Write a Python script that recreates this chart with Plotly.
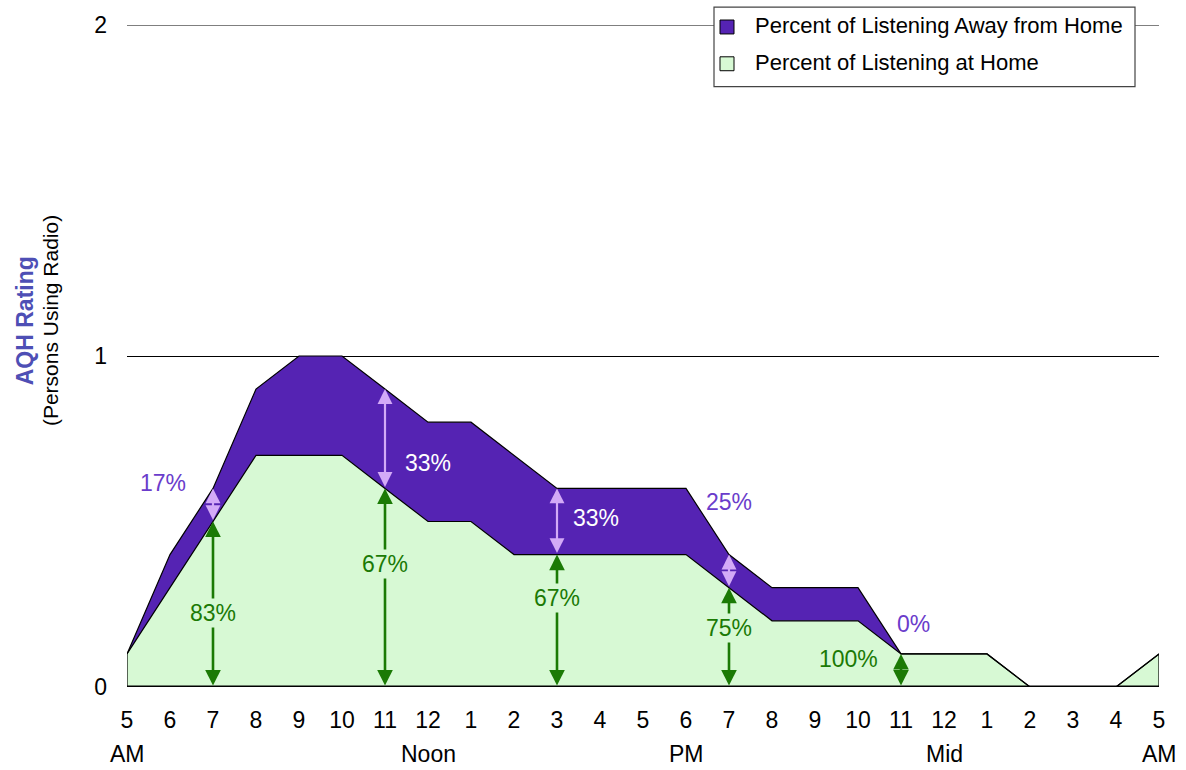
import plotly.graph_objects as go

# Hour slots from 5 AM through 5 AM the next day
hour_labels = ["5", "6", "7", "8", "9", "10", "11", "12", "1", "2", "3", "4",
               "5", "6", "7", "8", "9", "10", "11", "12", "1", "2", "3", "4", "5"]
period_labels = {0: "AM", 7: "Noon", 13: "PM", 19: "Mid", 24: "AM"}

# AQH rating listened at home, and total (home + away from home)
home_rating = [0.1, 0.3, 0.5, 0.7, 0.7, 0.7, 0.6, 0.5, 0.5, 0.4, 0.4, 0.4,
               0.4, 0.4, 0.3, 0.2, 0.2, 0.2, 0.1, 0.1, 0.1, 0.0, 0.0, 0.0, 0.1]
total_rating = [0.1, 0.4, 0.6, 0.9, 1.0, 1.0, 0.9, 0.8, 0.8, 0.7, 0.6, 0.6,
                0.6, 0.6, 0.4, 0.3, 0.3, 0.3, 0.1, 0.1, 0.1, 0.0, 0.0, 0.0, 0.1]

# Hours where the split is annotated
marked_hours = [2, 6, 10, 14, 18]

PURPLE = "#5523B3"
GREEN_FILL = "#D7F9D4"
GREEN_DARK = "#1B7A05"
LIGHT_PURPLE = "#D3AAF7"
LABEL_PURPLE = "#6A3CCB"
FONT = "Liberation Sans, Arial, sans-serif"

n = len(hour_labels)
xs = list(range(n))

fig = go.Figure()

# At-home area, closed down to the baseline at both ends
fig.add_trace(go.Scatter(
    x=[xs[0]] + xs + [xs[-1]],
    y=[0] + home_rating + [0],
    mode="lines", fill="tozeroy", fillcolor=GREEN_FILL,
    line=dict(color="black", width=1.2), showlegend=False, hoverinfo="skip"))

# Away-from-home band stacked on top
fig.add_trace(go.Scatter(
    x=xs, y=total_rating, mode="lines", fill="tonexty", fillcolor=PURPLE,
    line=dict(color="black", width=1.2), showlegend=False, hoverinfo="skip"))

annotations = []


def pct(part, whole):
    return round(100 * part / whole) if whole else 0


# label placement for each marked hour (x in hours, y in rating units)
away_label_pos = {2: (0.84, 0.617), 6: (7.0, 0.678), 10: (10.9, 0.51),
                  14: (14.0, 0.56), 18: (18.3, 0.19)}
away_label_color = {2: LABEL_PURPLE, 6: "white", 10: "white",
                    14: LABEL_PURPLE, 18: LABEL_PURPLE}
home_label_pos = {2: (2, 0.225), 6: (6, 0.372), 10: (10, 0.27),
                  14: (14, 0.177), 18: (16.77, 0.084)}

for h in marked_hours:
    home = home_rating[h]
    total = total_rating[h]
    away = total - home
    # green double arrow: baseline to at-home level
    annotations.append(dict(
        x=h, y=home, ax=h, ay=0, xref="x", yref="y", axref="x", ayref="y",
        text="", showarrow=True, arrowhead=2, startarrowhead=2,
        arrowside="end+start", arrowsize=1.2, startarrowsize=1.2,
        arrowwidth=2.6, arrowcolor=GREEN_DARK, standoff=0, startstandoff=0))
    # light purple double arrow: at-home level to total
    if away > 1e-9:
        annotations.append(dict(
            x=h, y=total, ax=h, ay=home, xref="x", yref="y", axref="x", ayref="y",
            text="", showarrow=True, arrowhead=2, startarrowhead=2,
            arrowside="end+start", arrowsize=1.35, startarrowsize=1.35,
            arrowwidth=2.2, arrowcolor=LIGHT_PURPLE, standoff=0, startstandoff=0))

for h in marked_hours:
    home = home_rating[h]
    total = total_rating[h]
    away = total - home
    ax_, ay_ = away_label_pos[h]
    annotations.append(dict(
        x=ax_, y=ay_, xref="x", yref="y", showarrow=False,
        text=f"{pct(away, total)}%",
        font=dict(family=FONT, size=23, color=away_label_color[h])))
    hx, hy = home_label_pos[h]
    annotations.append(dict(
        x=hx, y=hy, xref="x", yref="y", showarrow=False,
        text=f"{pct(home, total)}%", bgcolor=GREEN_FILL, borderpad=1,
        font=dict(family=FONT, size=23, color=GREEN_DARK)))

# Second row of hour labels
for i, lab in period_labels.items():
    annotations.append(dict(
        x=i, y=-0.1005, xref="x", yref="paper", showarrow=False, text=lab,
        yanchor="middle", font=dict(family=FONT, size=23, color="black")))

# Y axis title (two lines)
annotations.append(dict(
    x=-0.0985, y=0.553, xref="paper", yref="paper", showarrow=False,
    textangle=-90, xanchor="center", yanchor="middle",
    text="<b>AQH Rating</b>",
    font=dict(family=FONT, size=23, color="#4E4FB5")))
annotations.append(dict(
    x=-0.0735, y=0.553, xref="paper", yref="paper", showarrow=False,
    textangle=-90, xanchor="center", yanchor="middle",
    text="(Persons Using Radio)",
    font=dict(family=FONT, size=21, color="black")))

# Pixel helpers for the legend box
L, T = 127, 21
W, H = 1032, 666


def px(xp):
    return (xp - L) / W


def py(yp):
    return (T + H - yp) / H


shapes = [
    dict(type="line", xref="paper", yref="y", x0=0, x1=1, y0=2, y1=2,
         layer="below", line=dict(color="black", width=1)),
    dict(type="line", xref="paper", yref="y", x0=0, x1=1, y0=0, y1=0,
         line=dict(color="black", width=3)),
    dict(type="rect", xref="paper", yref="paper", x0=px(714), x1=px(1135),
         y0=py(83), y1=py(3), fillcolor="white", line=dict(color="#444444", width=1.2)),
    dict(type="rect", xref="paper", yref="paper", x0=px(720), x1=px(734),
         y0=py(30), y1=py(16), fillcolor=PURPLE, line=dict(color="black", width=1)),
    dict(type="rect", xref="paper", yref="paper", x0=px(720), x1=px(734),
         y0=py(67), y1=py(53), fillcolor=GREEN_FILL, line=dict(color="black", width=1)),
]
for text, yc in [("Percent of Listening Away from Home", 22),
                 ("Percent of Listening at Home", 59)]:
    annotations.append(dict(
        x=px(753), y=py(yc), xref="paper", yref="paper", showarrow=False,
        xanchor="left", yanchor="middle", text=text,
        font=dict(family=FONT, size=22, color="black")))

fig.update_layout(
    width=1186, height=770,
    margin=dict(l=L, r=1186 - L - W, t=T, b=770 - T - H),
    paper_bgcolor="white", plot_bgcolor="white",
    showlegend=False,
    xaxis=dict(range=[0, n - 1], tickmode="array", tickvals=xs, ticktext=hour_labels,
               showgrid=False, zeroline=False, showline=False, ticks="",
               ticklabelstandoff=17,
               tickfont=dict(family=FONT, size=23, color="black")),
    yaxis=dict(range=[0, 2], tickmode="array", tickvals=[0, 1, 2],
               ticktext=["0", "1", "2"], showgrid=True, gridcolor="black",
               gridwidth=1, zeroline=False, showline=False, ticks="",
               ticklabelstandoff=19,
               tickfont=dict(family=FONT, size=23, color="black")),
    annotations=annotations, shapes=shapes,
)

fig.write_html("out.html")
